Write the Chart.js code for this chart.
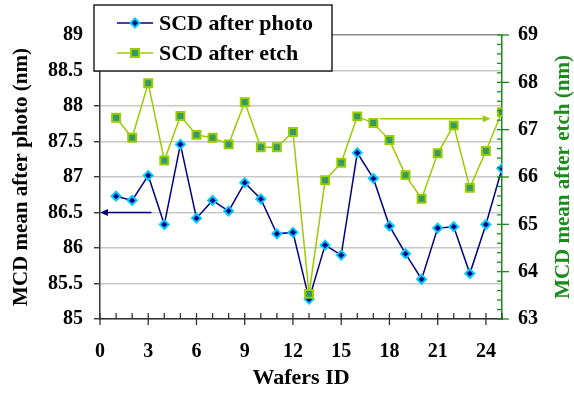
<!DOCTYPE html>
<html><head><meta charset="utf-8">
<script src="https://cdn.jsdelivr.net/npm/chart.js@4.4.1/dist/chart.umd.min.js"></script>
<style>html,body{margin:0;padding:0;background:#fff}#wrap{width:574px;height:403px}</style>
</head><body><div id="wrap"><canvas id="c" width="574" height="403"></canvas></div>
<script>
// ---- data ----
const wafers = [1,2,3,4,5,6,7,8,9,10,11,12,13,14,15,16,17,18,19,20,21,22,23,24,25];
const photoMean = [86.73,86.67,87.02,86.33,87.46,86.42,86.67,86.52,86.92,86.69,86.20,86.22,85.28,86.04,85.90,87.34,86.98,86.31,85.92,85.56,86.28,86.30,85.64,86.33,87.12];
const etchMean = [67.25,66.83,67.98,66.35,67.29,66.89,66.83,66.69,67.58,66.63,66.63,66.95,63.53,65.93,66.30,67.28,67.14,66.78,66.04,65.54,66.50,67.09,65.77,66.55,67.37];
const xTickValues = [0,3,6,9,12,15,18,21,24];
const leftTickValues = [85,85.5,86,86.5,87,87.5,88,88.5,89];
const rightTickValues = [63,64,65,66,67,68,69];
const seriesNames = ['SCD after photo','SCD after etch'];
const xTitle = 'Wafers ID';
const leftTitle = 'MCD mean after photo (nm)';
const rightTitle = 'MCD mean after etch (nm)';
// arrows: [x0, x1, y] (left arrow on left axis, right arrow on right axis)
const photoArrow = [3.2, 0, 86.5];
const etchArrow = [17.4, 24.3, 67.23];

const FONT = '"Liberation Serif", "Times New Roman", serif';
const GREEN = '#1a8c1a';
const NAVY = '#000080';
const LIME = '#99cc00';

const setTicks = (vals) => (scale) => { scale.ticks = vals.map(v => ({value: v})); };

function arrow(ctx, x0, x1, y, color) {
  ctx.save();
  ctx.strokeStyle = color; ctx.fillStyle = color; ctx.lineWidth = 1.5;
  const dir = Math.sign(x1 - x0);
  ctx.beginPath(); ctx.moveTo(x0, y); ctx.lineTo(x1 - dir * 6, y); ctx.stroke();
  ctx.beginPath(); ctx.moveTo(x1, y); ctx.lineTo(x1 - dir * 8, y - 3.5); ctx.lineTo(x1 - dir * 8, y + 3.5); ctx.closePath(); ctx.fill();
  ctx.restore();
}

const extras = {
  id: 'extras',
  afterDraw(chart) {
    const ctx = chart.ctx;
    const xs = chart.scales.x, yl = chart.scales.y, yr = chart.scales.y2;
    const area = chart.chartArea;
    ctx.save();
    // x-axis tick marks
    ctx.strokeStyle = '#333'; ctx.lineWidth = 1.3;
    for (let v = 0; v <= 25; v++) {
      const px = xs.getPixelForValue(v);
      const major = v % 3 === 0;
      ctx.beginPath(); ctx.moveTo(px, area.bottom - 6); ctx.lineTo(px, area.bottom + (major ? 6 : 0)); ctx.stroke();
    }
    // right-axis tick marks
    ctx.strokeStyle = GREEN; ctx.lineWidth = 1.3;
    for (let i = 0; i <= 30; i++) {
      const v = 63 + i * 0.2;
      const py = yr.getPixelForValue(v);
      const major = i % 5 === 0;
      ctx.beginPath(); ctx.moveTo(area.right - 5, py); ctx.lineTo(area.right + (major ? 7 : 0), py); ctx.stroke();
    }
    // arrows
    arrow(ctx, xs.getPixelForValue(photoArrow[0]), xs.getPixelForValue(photoArrow[1]), yl.getPixelForValue(photoArrow[2]), NAVY);
    arrow(ctx, xs.getPixelForValue(etchArrow[0]), xs.getPixelForValue(etchArrow[1]), yr.getPixelForValue(etchArrow[2]), LIME);
    // right title (reads bottom to top)
    ctx.save();
    ctx.translate(564, (area.top + area.bottom) / 2);
    ctx.rotate(-Math.PI / 2);
    ctx.fillStyle = GREEN; ctx.font = 'bold 21px ' + FONT;
    ctx.textAlign = 'center'; ctx.textBaseline = 'middle';
    ctx.fillText(rightTitle, 0, 0);
    ctx.restore();
    // legend box
    ctx.fillStyle = '#fff'; ctx.fillRect(94, 5, 238, 66);
    ctx.strokeStyle = '#000'; ctx.lineWidth = 1.3; ctx.strokeRect(94, 5, 238, 66);
    const rows = [23, 53];
    chart.data.datasets.forEach((ds, i) => {
      const y = rows[i];
      ctx.strokeStyle = ds.borderColor; ctx.lineWidth = 1.5;
      ctx.beginPath(); ctx.moveTo(117, y); ctx.lineTo(153, y); ctx.stroke();
      ctx.fillStyle = ds.pointBackgroundColor; ctx.strokeStyle = ds.pointBorderColor; ctx.lineWidth = 2;
      if (ds.pointStyle === 'rect') {
        ctx.beginPath(); ctx.rect(135 - 4, y - 4, 8, 8); ctx.fill(); ctx.stroke();
      } else {
        ctx.beginPath(); ctx.moveTo(135, y - 4.5); ctx.lineTo(139.5, y); ctx.lineTo(135, y + 4.5); ctx.lineTo(130.5, y); ctx.closePath(); ctx.fill(); ctx.stroke();
      }
      ctx.fillStyle = '#000'; ctx.font = 'bold 22px ' + FONT;
      ctx.textAlign = 'left'; ctx.textBaseline = 'middle';
      ctx.fillText(ds.label, 159, y + 1);
    });
    ctx.restore();
  }
};

new Chart(document.getElementById('c'), {
  type: 'line',
  data: {
    datasets: [
      {
        label: seriesNames[0], yAxisID: 'y', order: 1,
        data: wafers.map((w, i) => ({x: w, y: photoMean[i]})),
        borderColor: NAVY, borderWidth: 1.5, backgroundColor: NAVY,
        pointStyle: 'rectRot', pointRadius: 4.5, pointBorderWidth: 2,
        pointBackgroundColor: NAVY, pointBorderColor: '#00ccff', tension: 0
      },
      {
        label: seriesNames[1], yAxisID: 'y2', order: 0,
        data: wafers.map((w, i) => ({x: w, y: etchMean[i]})),
        borderColor: LIME, borderWidth: 1.5, backgroundColor: LIME,
        pointStyle: 'rect', pointRadius: 5.6, pointBorderWidth: 2,
        pointBackgroundColor: '#339966', pointBorderColor: LIME, tension: 0
      }
    ]
  },
  options: {
    responsive: false, animation: false, devicePixelRatio: 1,
    layout: {padding: {top: 35, left: 0, right: 0, bottom: 0}},
    plugins: {legend: {display: false}, tooltip: {enabled: false}},
    scales: {
      x: {
        type: 'linear', min: 0, max: 25,
        afterBuildTicks: setTicks(xTickValues),
        afterFit: (s) => { s.height = 84; },
        grid: {display: false, drawTicks: false},
        border: {display: true, color: '#333', width: 1.5},
        ticks: {padding: 21, color: '#000', font: {family: FONT, size: 20, weight: 'bold'}, callback: (v) => String(v)},
        title: {display: true, text: xTitle, color: '#000', font: {family: FONT, size: 22, weight: 'bold', lineHeight: 1}, padding: {top: 0, bottom: 14}}
      },
      y: {
        type: 'linear', position: 'left', min: 85, max: 89,
        afterBuildTicks: setTicks(leftTickValues),
        afterFit: (s) => { s.width = 100; },
        grid: {color: (c) => c.tick && c.tick.value === 89 ? '#8c8c8c' : '#c8c8c8', lineWidth: 1.5, drawTicks: true, tickLength: 6, tickColor: '#222', tickWidth: 1.3},
        border: {display: true, color: '#3a3a3a', width: 1.5},
        ticks: {padding: 11, color: '#000', font: {family: FONT, size: 20, weight: 'bold'}, callback: (v) => String(v)},
        title: {display: true, text: leftTitle, color: '#000', font: {family: FONT, size: 21, weight: 'bold', lineHeight: 1}, padding: {top: 11.5, bottom: 0}}
      },
      y2: {
        type: 'linear', position: 'right', min: 63, max: 69,
        afterBuildTicks: setTicks(rightTickValues),
        afterFit: (s) => { s.width = 72; },
        grid: {drawOnChartArea: false, drawTicks: false},
        border: {display: true, color: GREEN, width: 1.5},
        ticks: {padding: 16, color: '#000', font: {family: FONT, size: 20, weight: 'bold'}, callback: (v) => String(v)},
        title: {display: false}
      }
    }
  },
  plugins: [extras]
});
</script>
</body></html>
